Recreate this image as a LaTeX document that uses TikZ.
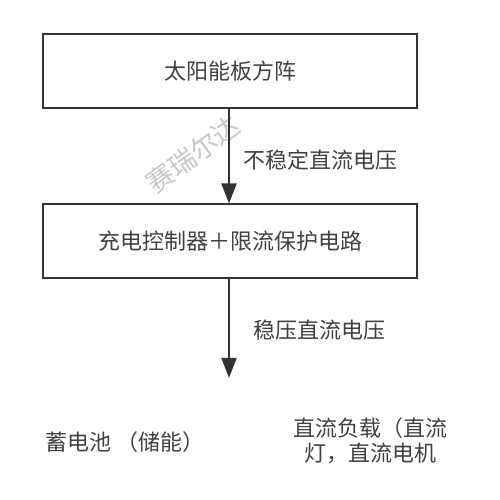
\documentclass[tikz,border=0pt]{standalone}
\usepackage{fontspec}
\setmainfont{Noto Sans CJK SC}
\usetikzlibrary{arrows.meta}

\begin{document}
\begin{tikzpicture}[x=1pt,y=1pt,
  blockbox/.style={draw=black!80, line width=2pt, minimum width=374pt, minimum height=74pt, inner sep=0pt},
  flow/.style={draw=black!80, line width=2pt, -{Triangle[length=20pt,width=15pt]}},
  txt/.style={text=black!75, font=\fontsize{22}{25}\selectfont}]

% page area
\useasboundingbox (0,0) rectangle (500,500);

% the two blocks
\node [blockbox, txt] (panel) at (230,429) {太阳能板方阵};
\node [blockbox, txt] (ctrl) at (230,258.5) {充电控制器＋限流保护电路};

% watermark
\node [text=black!22, rotate=36, font=\fontsize{27}{29}\selectfont] (mark) at (193,346) {赛瑞尔达};

% arrows and their labels
\coordinate (out) at (229,122);
\draw [flow] (panel.south -| 229,0) -- (ctrl.north -| 229,0);
\node [txt, anchor=west] (unstab) at (240,340) {不稳定直流电压};
\draw [flow] (ctrl.south -| 229,0) -- (out);
\node [txt, anchor=west] (stab) at (250,170) {稳压直流电压};

% outputs
\node [txt] (battery) at (125,58) {蓄电池 （储能）};
\node [txt, align=center] (load) at (370,59) {直流负载（直流\\灯，直流电机};

\end{tikzpicture}
\end{document}
